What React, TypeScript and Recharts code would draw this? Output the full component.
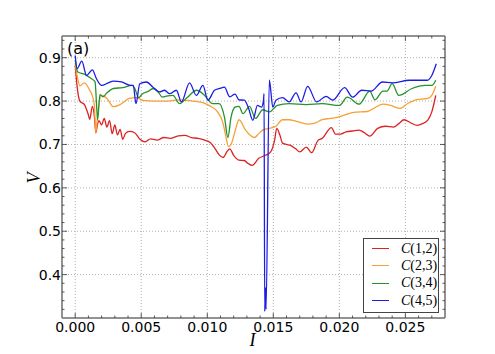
import React from 'react';
import { LineChart, Line, XAxis, YAxis, CartesianGrid, Legend } from 'recharts';

// C(1,2) .. C(4,5) traces, [I, V] pairs
const c12: [number, number][] = [
  [0, 0.882], [0.00015, 0.832], [0.00035, 0.8], [0.0007, 0.792], [0.001, 0.768], [0.0011, 0.758],
  [0.0013, 0.788], [0.00145, 0.765], [0.00156, 0.727], [0.0017, 0.748], [0.0018, 0.755], [0.002, 0.745],
  [0.0022, 0.76], [0.0024, 0.74], [0.0026, 0.755], [0.0028, 0.725], [0.003, 0.745], [0.0032, 0.722],
  [0.0034, 0.735], [0.0036, 0.712], [0.0038, 0.725], [0.0041, 0.73], [0.0045, 0.727], [0.0049, 0.712],
  [0.0053, 0.706], [0.0057, 0.713], [0.0062, 0.71], [0.0067, 0.716], [0.0072, 0.714], [0.0078, 0.72],
  [0.0083, 0.721], [0.0088, 0.716], [0.0093, 0.714], [0.0098, 0.71], [0.0102, 0.705], [0.0106, 0.69],
  [0.0109, 0.676], [0.0112, 0.67], [0.0115, 0.684], [0.0117, 0.69], [0.012, 0.675], [0.0124, 0.664],
  [0.0128, 0.663], [0.0131, 0.656], [0.0134, 0.652], [0.0139, 0.668], [0.0144, 0.675], [0.0148, 0.683],
  [0.0151, 0.71], [0.01526, 0.737], [0.0155, 0.721], [0.0157, 0.703], [0.016, 0.7], [0.0163, 0.698],
  [0.0167, 0.69], [0.017, 0.683], [0.0175, 0.694], [0.0179, 0.681], [0.0184, 0.71], [0.0187, 0.714],
  [0.0194, 0.739], [0.0197, 0.724], [0.0201, 0.724], [0.0205, 0.729], [0.021, 0.731], [0.0215, 0.733],
  [0.0219, 0.727], [0.0223, 0.719], [0.0229, 0.737], [0.0235, 0.742], [0.0241, 0.74], [0.0245, 0.748],
  [0.0249, 0.757], [0.0254, 0.75], [0.0259, 0.744], [0.0263, 0.748], [0.0267, 0.756], [0.027, 0.775],
  [0.0273, 0.813],
];

const c23: [number, number][] = [
  [0, 0.886], [0.00015, 0.858], [0.00035, 0.835], [0.0007, 0.842], [0.0011, 0.825], [0.0013, 0.812],
  [0.00145, 0.79], [0.00156, 0.727], [0.0017, 0.77], [0.002, 0.813], [0.0024, 0.806], [0.0029, 0.787],
  [0.0034, 0.792], [0.0041, 0.806], [0.0046, 0.808], [0.0052, 0.801], [0.006, 0.8], [0.007, 0.8],
  [0.0079, 0.803], [0.0089, 0.8], [0.0096, 0.797], [0.0102, 0.789], [0.0107, 0.778], [0.0112, 0.748],
  [0.0114, 0.72], [0.0116, 0.695], [0.0118, 0.7], [0.0121, 0.73], [0.0124, 0.757], [0.0129, 0.733],
  [0.0133, 0.72], [0.01357, 0.716], [0.0139, 0.725], [0.0142, 0.733], [0.0147, 0.737], [0.0152, 0.742],
  [0.0157, 0.757], [0.0162, 0.757], [0.0167, 0.754], [0.0176, 0.747], [0.0182, 0.75], [0.0187, 0.757],
  [0.0193, 0.76], [0.0199, 0.763], [0.0205, 0.769], [0.0211, 0.774], [0.0221, 0.776], [0.0227, 0.785],
  [0.0233, 0.793], [0.0239, 0.79], [0.0246, 0.783], [0.0252, 0.795], [0.0258, 0.803], [0.0267, 0.806],
  [0.027, 0.813], [0.0273, 0.834],
];

const c34: [number, number][] = [
  [0, 0.894], [0.0002, 0.867], [0.0007, 0.862], [0.0012, 0.852], [0.0015, 0.845], [0.0017, 0.757],
  [0.00187, 0.815], [0.0021, 0.81], [0.0024, 0.819], [0.0029, 0.829], [0.0036, 0.831], [0.0043, 0.836],
  [0.0045, 0.83], [0.0048, 0.808], [0.0051, 0.817], [0.0055, 0.822], [0.0059, 0.829], [0.0063, 0.82],
  [0.0066, 0.809], [0.007, 0.812], [0.0074, 0.813], [0.0079, 0.794], [0.0085, 0.809], [0.0092, 0.825],
  [0.0098, 0.813], [0.0104, 0.794], [0.0109, 0.794], [0.0113, 0.763], [0.01156, 0.716], [0.0118, 0.763],
  [0.0121, 0.786], [0.0124, 0.788], [0.0127, 0.771], [0.0132, 0.788], [0.01365, 0.76], [0.0142, 0.78],
  [0.0147, 0.775], [0.0153, 0.79], [0.0162, 0.794], [0.0175, 0.792], [0.0187, 0.794], [0.02, 0.79],
  [0.0206, 0.809], [0.0215, 0.793], [0.0223, 0.823], [0.0227, 0.803], [0.0233, 0.823], [0.0236, 0.823],
  [0.024, 0.84], [0.0245, 0.813], [0.0255, 0.829], [0.0265, 0.836], [0.027, 0.836], [0.0273, 0.848],
];

const c45: [number, number][] = [
  [0, 0.905], [0.00015, 0.875], [0.0005, 0.892], [0.00086, 0.859], [0.0013, 0.872], [0.0016, 0.852],
  [0.002, 0.836], [0.0025, 0.842], [0.0029, 0.846], [0.0035, 0.844], [0.0042, 0.836], [0.0044, 0.836],
  [0.0046, 0.794], [0.00489, 0.84], [0.00539, 0.844], [0.00589, 0.832], [0.00639, 0.821], [0.00676, 0.825],
  [0.00715, 0.817], [0.00766, 0.825], [0.00804, 0.798], [0.00866, 0.842], [0.00917, 0.813], [0.00967, 0.836],
  [0.01005, 0.802], [0.01055, 0.825], [0.01093, 0.829], [0.0113, 0.832], [0.0117, 0.81], [0.0121, 0.816],
  [0.0124, 0.803], [0.0128, 0.802], [0.0131, 0.786], [0.01345, 0.756], [0.0138, 0.79], [0.0141, 0.786],
  [0.01425, 0.8], [0.0143, 0.817], [0.01435, 0.315], [0.0144, 0.37], [0.01445, 0.32], [0.0147, 0.849],
  [0.01496, 0.786], [0.0152, 0.802], [0.0157, 0.808], [0.0162, 0.798], [0.01672, 0.819], [0.0171, 0.798],
  [0.0176, 0.834], [0.01828, 0.798], [0.019, 0.811], [0.0195, 0.802], [0.0204, 0.831], [0.021, 0.809],
  [0.0217, 0.825], [0.0224, 0.823], [0.02326, 0.844], [0.024, 0.842], [0.0253, 0.848], [0.02667, 0.848],
  [0.027, 0.859], [0.02734, 0.886],
];

const xDomain: [number, number] = [-0.001, 0.028];
const yDomain: [number, number] = [0.3, 0.95];
const xMajor = [0, 0.005, 0.01, 0.015, 0.02, 0.025];
const xTicks = [
  0, 0.001, 0.002, 0.003, 0.004, 0.005, 0.006, 0.007, 0.008, 0.009, 0.01, 0.011, 0.012, 0.013,
  0.014, 0.015, 0.016, 0.017, 0.018, 0.019, 0.02, 0.021, 0.022, 0.023, 0.024, 0.025, 0.026, 0.027,
];
const yMajor = [0.4, 0.5, 0.6, 0.7, 0.8, 0.9];
const yTicks = [
  0.32, 0.34, 0.36, 0.38, 0.4, 0.42, 0.44, 0.46, 0.48, 0.5, 0.52, 0.54, 0.56, 0.58, 0.6, 0.62,
  0.64, 0.66, 0.68, 0.7, 0.72, 0.74, 0.76, 0.78, 0.8, 0.82, 0.84, 0.86, 0.88, 0.9, 0.92, 0.94,
];

const series = [
  { name: 'C(1,2)', pts: c12, color: '#dd2222' },
  { name: 'C(2,3)', pts: c23, color: '#f7a035' },
  { name: 'C(3,4)', pts: c34, color: '#24922a' },
  { name: 'C(4,5)', pts: c45, color: '#1c1ce4' },
];

const isMajor = (list: number[], v: number) => list.some((m) => Math.abs(m - v) < 1e-9);
const tickFont = { fontFamily: 'DejaVu Sans', fontSize: 14, fill: '#000' };
const spine = '#6e6e6e';

const BottomTick = ({ x, y, payload }: any) => {
  const major = isMajor(xMajor, payload.value);
  return (
    <g>
      <line x1={x} x2={x} y1={y} y2={y - (major ? 5 : 2.5)} stroke="#333" strokeWidth={0.8} />
      {major && (
        <text x={x} y={y + 14} textAnchor="middle" {...tickFont}>
          {payload.value.toFixed(3)}
        </text>
      )}
    </g>
  );
};

const TopTick = ({ x, y, payload }: any) => {
  const major = isMajor(xMajor, payload.value);
  return <line x1={x} x2={x} y1={y} y2={y + (major ? 5 : 2.5)} stroke="#333" strokeWidth={0.8} />;
};

const LeftTick = ({ x, y, payload }: any) => {
  const major = isMajor(yMajor, payload.value);
  return (
    <g>
      <line x1={x} x2={x + (major ? 5 : 2.5)} y1={y} y2={y} stroke="#333" strokeWidth={0.8} />
      {major && (
        <text x={x - 1} y={y + 5} textAnchor="end" {...tickFont}>
          {payload.value.toFixed(1)}
        </text>
      )}
    </g>
  );
};

const RightTick = ({ x, y, payload }: any) => {
  const major = isMajor(yMajor, payload.value);
  return <line x1={x} x2={x - (major ? 5 : 2.5)} y1={y} y2={y} stroke="#333" strokeWidth={0.8} />;
};

const LegendBox = ({ payload }: any) => (
  <div
    style={{
      border: '1px solid #444',
      background: '#fff',
      boxSizing: 'border-box',
      width: 76,
      height: 75,
      padding: '1px 0 0 8px',
    }}
  >
    {(payload || []).map((p: any) => (
      <div key={p.value} style={{ display: 'flex', alignItems: 'center', height: 17.3 }}>
        <span style={{ width: 17, height: 0, borderTop: `1.5px solid ${p.color}`, marginRight: 12 }} />
        <span style={{ fontFamily: 'Liberation Serif', fontSize: 14, color: '#000', whiteSpace: 'nowrap' }}>
          <i>{p.value.slice(0, 1)}</i>
          {p.value.slice(1)}
        </span>
      </div>
    ))}
  </div>
);

// grid only at the labelled ticks
const gridX = ({ offset }: any) =>
  xMajor.map((v) => offset.left + ((v - xDomain[0]) / (xDomain[1] - xDomain[0])) * offset.width);
const gridY = ({ offset }: any) =>
  yMajor.map((v) => offset.top + ((yDomain[1] - v) / (yDomain[1] - yDomain[0])) * offset.height);

export default function App() {
  return (
    <LineChart width={479} height={346} margin={{ top: 27, right: 41, bottom: 2, left: 10 }}>
      <CartesianGrid
        stroke="#b0b0b0"
        strokeDasharray="1 2"
        verticalCoordinatesGenerator={gridX}
        horizontalCoordinatesGenerator={gridY}
      />
      <XAxis
        type="number"
        dataKey="x"
        domain={xDomain}
        allowDataOverflow
        ticks={xTicks}
        interval={0}
        height={34}
        tickSize={0}
        tickMargin={0}
        tickLine={false}
        tick={<BottomTick />}
        axisLine={{ stroke: spine, strokeWidth: 1.5 }}
        label={{
          content: ({ viewBox }: any) => (
            <text
              x={viewBox.x + viewBox.width / 2 - 1}
              y={viewBox.y + 28}
              textAnchor="middle"
              fontFamily="Liberation Serif"
              fontStyle="italic"
              fontSize={18}
            >
              I
            </text>
          ),
        }}
      />
      <XAxis
        xAxisId="top"
        orientation="top"
        type="number"
        dataKey="x"
        domain={xDomain}
        allowDataOverflow
        ticks={xTicks}
        interval={0}
        height={1}
        tickSize={0}
        tickMargin={0}
        tickLine={false}
        tick={<TopTick />}
        axisLine={{ stroke: spine, strokeWidth: 1.5 }}
        label={{
          content: ({ viewBox }: any) => (
            <text x={viewBox.x + 5} y={viewBox.y + 19} fontFamily="DejaVu Sans" fontSize={16} fill="#000">
              (a)
            </text>
          ),
        }}
      />
      <YAxis
        type="number"
        domain={yDomain}
        allowDataOverflow
        ticks={yTicks}
        interval={0}
        width={44}
        tickSize={0}
        tickMargin={0}
        tickLine={false}
        tick={<LeftTick />}
        axisLine={{ stroke: spine, strokeWidth: 1.5 }}
        label={{
          content: ({ viewBox }: any) => {
            const cx = viewBox.x + 22;
            const cy = viewBox.y + viewBox.height / 2 + 1;
            return (
              <text
                x={cx}
                y={cy}
                textAnchor="middle"
                transform={`rotate(-90, ${cx}, ${cy})`}
                fontFamily="Liberation Serif"
                fontStyle="italic"
                fontSize={18}
              >
                V
              </text>
            );
          },
        }}
      />
      <YAxis
        yAxisId="right"
        orientation="right"
        type="number"
        domain={yDomain}
        allowDataOverflow
        ticks={yTicks}
        interval={0}
        width={1}
        tickSize={0}
        tickMargin={0}
        tickLine={false}
        tick={<RightTick />}
        axisLine={{ stroke: spine, strokeWidth: 1.5 }}
      />
      <Legend
        layout="vertical"
        align="center"
        verticalAlign="middle"
        content={<LegendBox />}
        wrapperStyle={{ left: 355, top: 230, width: 76, height: 75 }}
      />
      {series.map((s) => (
        <Line
          key={s.name}
          name={s.name}
          data={s.pts.map(([x, y]) => ({ x, y }))}
          dataKey="y"
          type="monotone"
          stroke={s.color}
          strokeWidth={1.3}
          dot={false}
          activeDot={false}
          isAnimationActive={false}
        />
      ))}
    </LineChart>
  );
}
